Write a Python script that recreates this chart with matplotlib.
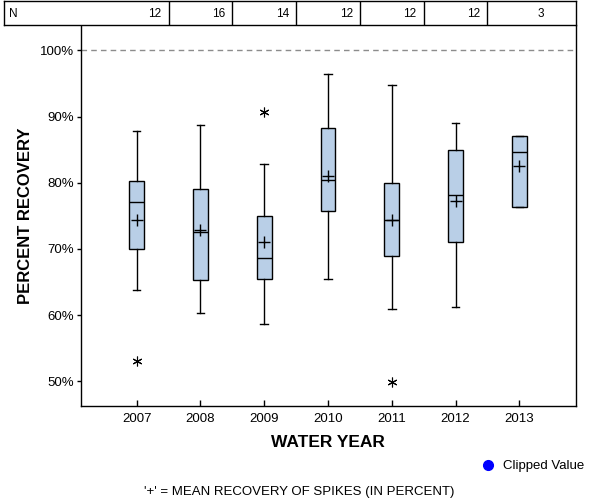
import matplotlib
matplotlib.use("Agg")
import matplotlib.pyplot as plt
from matplotlib.lines import Line2D

plt.rcParams['font.family'] = ['Liberation Sans', 'DejaVu Sans']

# data
years = ["2007", "2008", "2009", "2010", "2011", "2012", "2013"]
n_samples = [12, 16, 14, 12, 12, 12, 3]
whis_lo = [63.8, 60.3, 58.6, 65.4, 60.9, 61.3, 76.4]
q1 = [70.0, 65.3, 65.4, 75.8, 69.0, 71.1, 76.4]
medians = [77.1, 72.5, 68.6, 80.4, 74.4, 78.1, 84.7]
means = [74.4, 72.9, 71.0, 81.0, 74.3, 77.2, 82.6]
q3 = [80.2, 79.0, 75.0, 88.3, 79.9, 85.0, 87.0]
whis_hi = [87.9, 88.7, 82.8, 96.4, 94.8, 89.1, 87.0]
outliers = [[53.0], [], [90.7], [], [49.9], [], []]

stats = []
for i in range(len(years)):
    stats.append(dict(whislo=whis_lo[i], q1=q1[i], med=medians[i], mean=means[i],
                      q3=q3[i], whishi=whis_hi[i], fliers=outliers[i], label=years[i]))

fig = plt.figure(figsize=(6, 5), dpi=100)
W, H = 600.0, 500.0
ax_l, ax_r, ax_t, ax_b = 80.5, 576.0, 26.0, 406.0
ax = fig.add_axes([ax_l / W, 1 - ax_b / H, (ax_r - ax_l) / W, (ax_b - ax_t) / H])

x0, x1 = 0.119, 7.889
pos = list(range(1, len(years) + 1))

ax.axhline(100, color='#8c8c8c', lw=1, ls=(0, (4, 3)), zorder=1)

ax.bxp(stats, positions=pos, widths=0.235, patch_artist=True,
       showmeans=True, showfliers=True,
       boxprops=dict(facecolor='#b9cfe7', edgecolor='black', linewidth=1),
       medianprops=dict(color='black', linewidth=1),
       whiskerprops=dict(color='black', linewidth=1),
       capprops=dict(color='black', linewidth=1),
       meanprops=dict(marker='+', markersize=9, markeredgecolor='black',
                      markeredgewidth=1, linestyle='none'),
       flierprops=dict(marker=(6, 2, 0), markersize=7, markeredgecolor='black',
                       markeredgewidth=0.8, linestyle='none'),
       zorder=3)

ax.set_xlim(x0, x1)
ax.set_ylim(46.26, 103.7)
ax.set_xticks(pos)
ax.set_xticklabels(years, fontsize=9.5)
ax.set_yticks([50, 60, 70, 80, 90, 100])
ax.set_yticklabels(["50%", "60%", "70%", "80%", "90%", "100%"], fontsize=9.5)
ax.tick_params(axis='x', direction='in', length=4, width=1, pad=5)
ax.tick_params(axis='y', direction='out', length=3, width=1, pad=1.5)
ax.spines['top'].set_visible(False)
for s in ['left', 'right', 'bottom']:
    ax.spines[s].set_linewidth(1)

ax.set_xlabel("WATER YEAR", fontsize=12.5, fontweight='bold', labelpad=7)
ax.set_ylabel("PERCENT RECOVERY", fontsize=12, fontweight='bold', labelpad=5)

# N table on top
tb_l, tb_r, tb_t, tb_b = 4.0, 576.0, 1.0, 25.0
tab = fig.add_axes([tb_l / W, 1 - tb_b / H, (tb_r - tb_l) / W, (tb_b - tb_t) / H])
scale = (x1 - x0) / (ax_r - ax_l)
tab.set_xlim(x0 - (ax_l - tb_l) * scale, x1)
tab.set_ylim(0, 1)
tab.set_xticks([])
tab.set_yticks([])
for s in tab.spines.values():
    s.set_linewidth(1)
for p in pos[:-1]:
    tab.axvline(p + 0.5, color='black', lw=1)
tab.text(x0 - (ax_l - tb_l - 5) * scale, 0.45, "N", fontsize=8.5, ha='left', va='center')
for p, n in zip(pos, n_samples):
    tab.text(p + 0.5 - 7 * scale, 0.45, str(n), fontsize=8.5, ha='right', va='center')

# legend and footnote
clip = Line2D([], [], marker='o', color='blue', linestyle='none', markersize=7)
fig.legend(handles=[clip], labels=["Clipped Value"], loc='center left',
           bbox_to_anchor=(466 / W, 1 - 466 / H), frameon=False, fontsize=9.5,
           handletextpad=0.4, handlelength=1.5)
fig.text(299 / W, 1 - 492 / H, "'+' = MEAN RECOVERY OF SPIKES (IN PERCENT)",
         fontsize=9.5, ha='center', va='center')

fig.savefig("out.png", dpi=100)
